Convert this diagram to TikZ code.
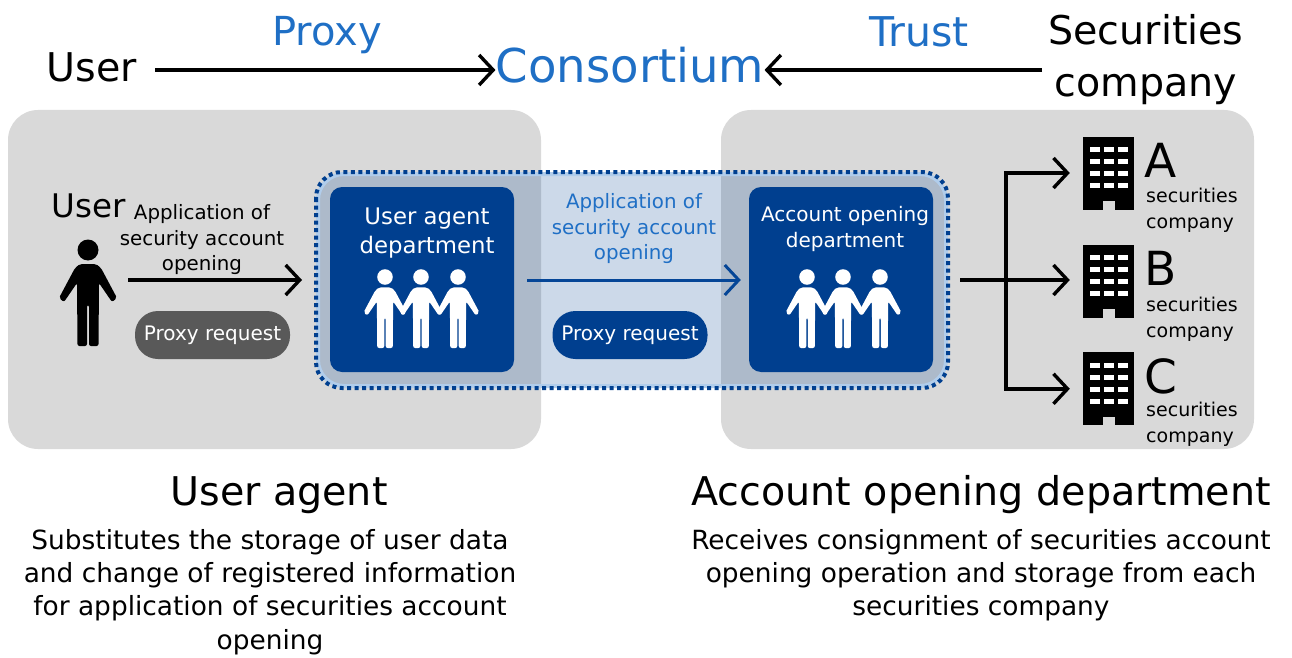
\documentclass[tikz,border=0pt]{standalone}
\usepackage{xcolor}
\usepackage{fontspec}
\setmainfont{DejaVu Sans}
\usetikzlibrary{arrows.meta,positioning}
\definecolor{zonegray}{HTML}{D9D9D9}
\definecolor{deepblue}{HTML}{003F8F}
\definecolor{linkblue}{HTML}{1F6FC5}
\definecolor{pillgray}{HTML}{595959}
\newcommand{\fs}[2]{\fontsize{#1}{#2}\selectfont}

\tikzset{
  man/.pic={
    \path[pic actions] (0,0) circle[radius=10.5];
    \path[pic actions,rounded corners=2pt] (-8,14) -- (8,14) -- (13,18) -- (29,48) -- (24,52)
      -- (11,33) -- (10.5,96) -- (1,96) -- (1,55) -- (-1,55) -- (-1,96) -- (-10.5,96)
      -- (-11,33) -- (-24,52) -- (-29,48) -- (-13,18) -- cycle;
  },
  windows/.pic={
    \foreach \r in {-26,-14,-2,10}
      \foreach \c in {-19,-5,9}
        \fill[white] (\c,\r) rectangle ++(10,5);
    \fill[zonegray] (-6,28) rectangle (6,38);
  }
}

\begin{document}
\begin{tikzpicture}[x=1pt,y=-1pt,>={Straight Barb[length=14pt,width=30pt]}]
    \tikzstyle{zone}=[fill=zonegray,rounded corners=30pt]
    \tikzstyle{unit}=[draw=none,fill=deepblue,rounded corners=12pt,minimum width=184pt,minimum height=185pt,inner sep=0pt]
    \tikzstyle{pill}=[rounded corners=23pt,minimum width=155pt,minimum height=48pt,inner sep=0pt,text=white,font=\fs{20}{24}]
    \tikzstyle{tower}=[fill=black,minimum width=51pt,minimum height=73pt,inner sep=0pt]
    \tikzstyle{link}=[->,line width=3.4pt]
    \tikzstyle{big}=[inner sep=0pt,font=\fs{39.6}{52},align=center]
    \tikzstyle{blue}=[inner sep=0pt,text=linkblue]
    \tikzstyle{note}=[inner sep=0pt,align=center,font=\fs{19.8}{25.5}]
    \tikzstyle{desc}=[inner sep=0pt,align=center,font=\fs{26.4}{33.2}]
    \tikzstyle{firm}=[inner sep=0pt,align=left,anchor=north west,font=\fs{19}{25.5}]

    \useasboundingbox (0,0) rectangle (1292,658);

    % top row
    \node[big] (topuser) at (92,67) {User};
    \node[blue,font=\fs{46.6}{52}] (consortium) at (630,65) {Consortium};
    \node[big] (topfirm) at (1146,60) {Securities\\company};
    \node[blue,font=\fs{40}{46}] (proxy) at (327,35) {Proxy};
    \node[blue,font=\fs{41}{46}] (trust) at (919,32) {Trust};
    \draw[link] ([xshift=18pt]topuser.east |- 0,70) -- (consortium.west |- 0,70);
    \draw[link] ([xshift=-6pt]topfirm.west |- 0,70) -- (consortium.east |- 0,70);

    % grey zones
    \fill[zone] (8,110) rectangle (541,449);
    \fill[zone] (721,110) rectangle (1254,449);

    % shared consortium frame
    \node[draw=linkblue!35,line width=4pt,rounded corners=26pt,fill=deepblue,fill opacity=.2,draw opacity=1,
      minimum width=628pt,minimum height=212pt,inner sep=0pt] (frame) at (632,280) {};
    \draw[deepblue,line width=4pt,dash pattern=on 4pt off 3.5pt,rounded corners=26pt]
      (frame.north west) rectangle (frame.south east);

    % departments
    \node[unit] (agent) at (422,279.5) {};
    \node[unit] (opening) at (841,279.5) {};
    \node[inner sep=0pt,text=white,align=center,font=\fs{22.8}{29}] (agenttitle) at (427,233) {User agent\\department};
    \node[inner sep=0pt,text=white,align=center,font=\fs{20}{26}] (openingtitle) at (845,229) {Account opening\\department};
    \foreach \x in {385,421,458}
      \pic[fill=white,scale=.74] at (\x,277) {man};
    \foreach \x in {807,843,880}
      \pic[fill=white,scale=.74] at (\x,277) {man};

    % user side
    \node[inner sep=0pt,font=\fs{32.5}{38}] (sideuser) at (89,205.5) {User};
    \pic[fill=black] at (88,250) {man};
    \coordinate (userhand) at (128,280);
    \node[note] (applyleft) at (202,240) {Application of\\security account\\opening};
    \draw[link,shorten >=14pt] (userhand) -- (frame.west |- userhand);
    \node[pill,fill=pillgray] (pillleft) at (212.5,335) {Proxy request};

    % between departments
    \node[note,text=linkblue] (applymid) at (634,229) {Application of\\security account\\opening};
    \draw[link,line width=3pt,deepblue!85!linkblue,shorten <=13pt,shorten >=8pt] (agent.east |- userhand) -- (opening.west |- userhand);
    \node[pill,fill=deepblue] (pillmid) at (630,335) {Proxy request};

    % securities companies
    \node[tower] (firma) at (1108.5,173) {};
    \node[tower,below=35pt of firma] (firmb) {};
    \node[tower,below=34pt of firmb] (firmc) {};
    \pic at (firma) {windows};
    \pic at (firmb) {windows};
    \pic at (firmc) {windows};
    \coordinate (fanin) at (960,280);
    \coordinate (fork) at (1006,280);
    \draw[line width=3.4pt] (fanin) -- (fork);
    \draw[link,shorten >=13pt] (fork) |- (firma);
    \draw[link,shorten >=13pt] (fork) -- (firmb.west |- fork);
    \draw[link,shorten >=13pt] (fork) |- (firmc);
    \node[inner sep=0pt,font=\fs{47}{50}] (namea) at (1161,160) {A};
    \node[inner sep=0pt,font=\fs{47}{50}] (nameb) at (1161,268) {B};
    \node[inner sep=0pt,font=\fs{47}{50}] (namec) at (1161,376) {C};
    \node[firm] (labela) at (1146,188) {securities\\company};
    \node[firm] (labelb) at (1146,297) {securities\\company};
    \node[firm] (labelc) at (1146,402) {securities\\company};

    % captions
    \node[big] (capleft) at (279,495) {User agent};
    \node[big] (capright) at (981,495) {Account opening department};
    \node[desc] (descleft) at (270,592) {Substitutes the storage of user data\\and change of registered information\\for application of securities account\\opening};
    \node[desc] (descright) at (981,575) {Receives consignment of securities account\\opening operation and storage from each\\securities company};
\end{tikzpicture}
\end{document}
